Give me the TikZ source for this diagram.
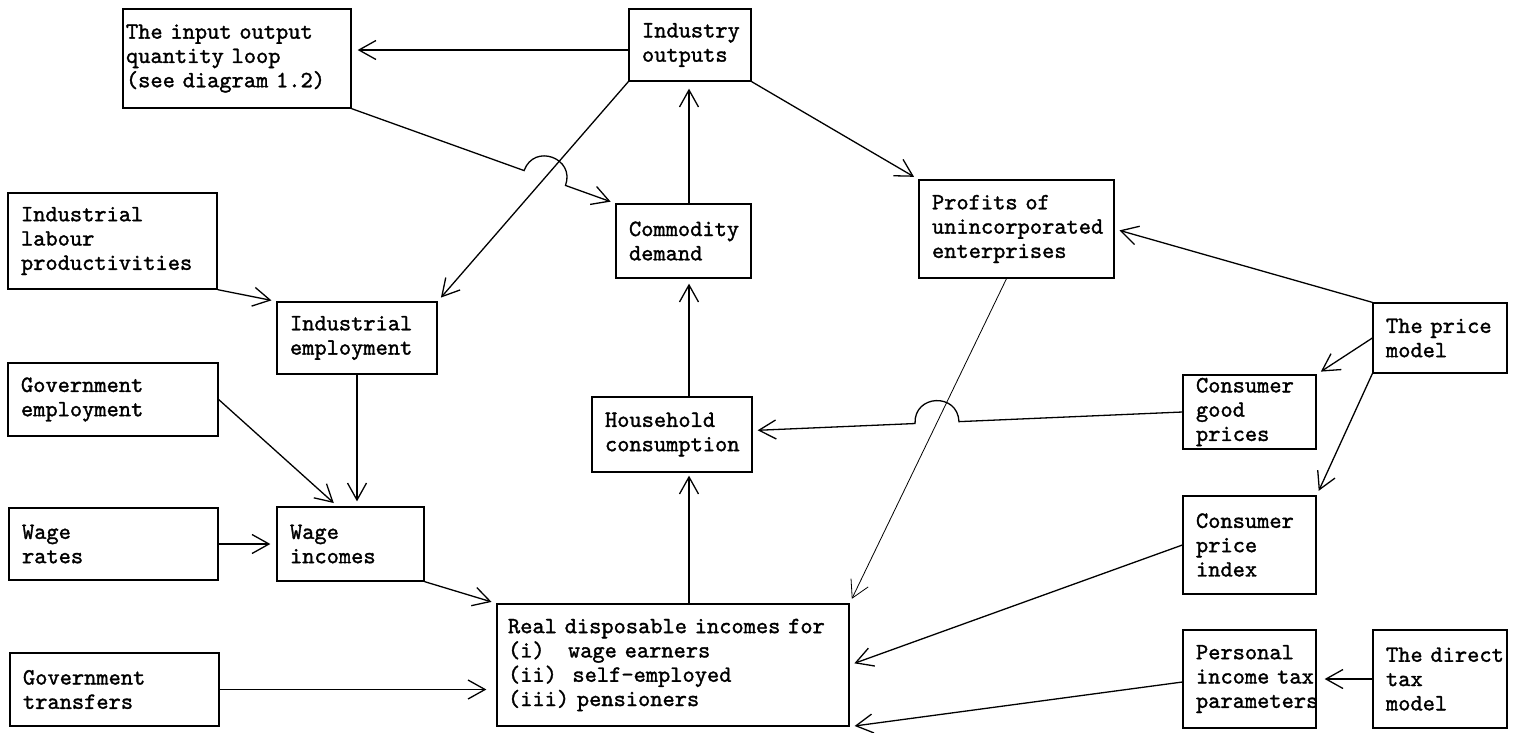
\documentclass[tikz,border=0pt]{standalone}
\usepackage{fontspec}
\usetikzlibrary{arrows.meta,calc}
\newfontfamily\typewriter{lmmono10-regular.otf}[FakeBold=1.4]
\newcommand\boxfont{\typewriter\fontsize{23.3}{24.3}\selectfont}
\tikzset{
  box/.style={draw, line width=1.3pt, font=\boxfont, align=left, inner ysep=2pt},
  arr/.style={line width=1.3pt, -{Straight Barb[length=17pt,width=19pt]}, shorten >=5pt},
  faint/.style={line width=0.8pt}
}
% \bx[pad]{name}{cx}{cy}{width}{height}{text}
\newcommand\bx[7][13]{%
  \pgfmathsetmacro\bxtw{#5-2*#1}%
  \node[box, inner xsep=#1pt, minimum width=#5pt, minimum height=#6pt,
        text width=\bxtw pt] (#2) at (#3,#4) {#7};}
\begin{document}
\begin{tikzpicture}[x=1pt,y=-1pt]
\fill[white] (0,0) rectangle (1532,732);
\useasboundingbox (0,0) rectangle (1532,732);

% ---- boxes
\bx[3]{loop}{237}{58.5}{228}{99}{\mbox{The input output}\\\mbox{quantity loop}\\\mbox{(see diagram 1.2)}}
\bx{io}{690}{45}{122}{72}{Industry\\outputs}
\bx{pu}{1016.5}{229}{195}{98}{\mbox{Profits of}\\unincorporated\\enterprises}
\bx{pm}{1440}{338}{134}{70}{\mbox{The price}\\model}
\bx{cd}{683.5}{241}{135}{74}{Commodity\\demand}
\bx{hc}{672}{434.5}{160}{75}{Household\\consumption}
\bx{lp}{112.5}{241}{209}{96}{Industrial\\labour\\productivities}
\bx{ie}{357}{338}{160}{72}{Industrial\\employment}
\bx{ge}{113}{399.5}{210}{73}{Government\\employment}
\bx{wr}{113.5}{544}{209}{72}{Wage\\rates}
\bx{wi}{350.5}{544}{147}{74}{Wage\\incomes}
\bx{gt}{114.5}{689.5}{209}{73}{Government\\transfers}
\bx[11]{rd}{673}{665}{352}{122}{\mbox{Real disposable incomes for}\\\mbox{(i)\ \ \ wage earners}\\\mbox{(ii)\ \ self-employed}\\\mbox{(iii) pensioners}}
\bx{cgp}{1249.5}{412}{133}{74}{Consumer\\good\\prices}
\bx{cpi}{1249.5}{545}{133}{98}{Consumer\\price\\index}
\bx{pit}{1249.5}{679}{133}{98}{Personal\\\mbox{income tax}\\parameters}
\bx{dtm}{1440}{679}{134}{98}{\mbox{The direct}\\tax\\model}

% ---- helper points
\coordinate (spine) at (689,0);
\coordinate (ioW) at ([yshift=-5pt]io.west);
\coordinate (loopSE) at (loop.south east);
\coordinate (cdNW) at (cd.north west);
\coordinate (ioSW) at (io.south west);
\coordinate (ieNE) at (ie.north east);
\coordinate (cgpW) at (cgp.west);
\coordinate (hcE) at ([yshift=4pt]hc.east);
\coordinate (puS) at ([xshift=-10pt]pu.south);
\coordinate (rdNE) at (rd.north east);
\coordinate (pitW) at ([yshift=-3pt]pit.west);
\coordinate (wiN) at ([xshift=-13pt]wi.north);

% ---- top part
\draw[arr, shorten >=6pt] (ioW) -- (ioW -| loop.east);
\draw[arr] (ioSW) -- (ieNE);
\draw[arr] (io.south east) -- (pu.north west);
\draw[arr, shorten >=7pt] (cd.north -| spine) -- (io.south -| spine);
\draw[arr] (hc.north -| spine) -- (cd.south -| spine);
\draw[arr, shorten >=3pt] (rd.north -| spine) -- (hc.south -| spine);

% line from the quantity loop, hopping over the outputs-to-employment line
\coordinate (X1) at (intersection of loopSE--cdNW and ioSW--ieNE);
\coordinate (P1) at ($(X1)!22pt!(loopSE)$);
\coordinate (P2) at ($(X1)!22pt!(cdNW)$);
\draw[arr] (loopSE) -- (P1)
  .. controls ($(P1)!0.6667!90:(P2)$) and ($(P2)!0.6667!-90:(P1)$) .. (P2) -- (cdNW);

% consumer good prices to household consumption, hopping over the profits line
\coordinate (X2) at (intersection of cgpW--hcE and puS--rdNE);
\coordinate (Q2) at ($(X2)!22pt!(cgpW)$);
\coordinate (Q1) at ($(X2)!22pt!(hcE)$);
\draw[arr] (cgpW) -- (Q2)
  .. controls ($(Q2)!0.6667!-90:(Q1)$) and ($(Q1)!0.6667!90:(Q2)$) .. (Q1) -- (hcE);
\draw[arr, faint] (puS) -- (rdNE);

% ---- right part
\draw[arr] (pm.north west) -- (pu.east);
\draw[arr] (pm.west) -- (cgp.north east);
\draw[arr] (pm.south west) -- (cpi.north east);
\draw[arr] (cpi.west) -- (rd.east);
\draw[arr] (pitW) -- (rd.south east);
\draw[arr, shorten >=8pt] (dtm.west) -- (pit.east);

% ---- left part
\draw[arr] (lp.south east) -- (ie.north west);
\draw[arr] (ge.east) -- (wiN);
\draw[arr] (ie.south) -- (ie.south |- wi.north);
\draw[arr, shorten >=6pt] (wr.east) -- (wr.east -| wi.west);
\draw[arr] (wi.south east) -- (rd.north west);
\draw[arr, shorten >=10pt] (gt.east) -- (gt.east -| rd.west);
\end{tikzpicture}
\end{document}
